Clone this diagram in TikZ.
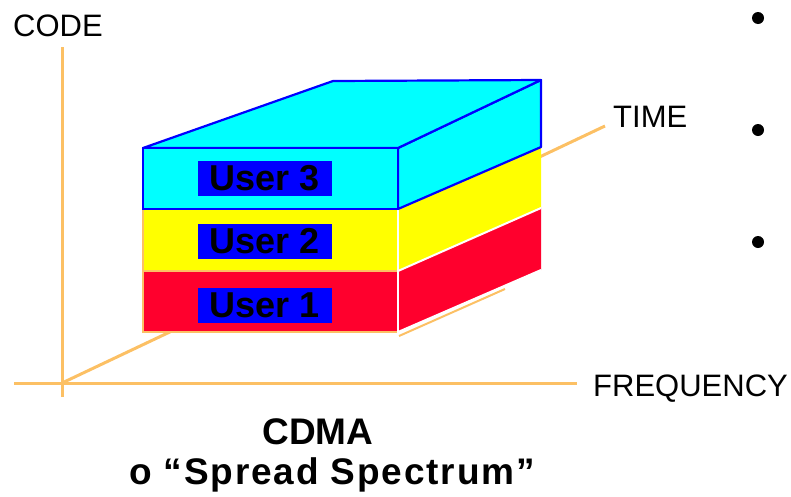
\documentclass[tikz,border=0pt]{standalone}
\usepackage{fontspec}
\setmainfont{Liberation Sans}
\usepackage{xcolor}
\definecolor{axisorange}{RGB}{252,192,100}
\definecolor{layercyan}{RGB}{0,255,255}
\definecolor{layeryellow}{RGB}{255,255,0}
\definecolor{layerred}{RGB}{255,0,45}
\definecolor{labelblue}{RGB}{0,0,255}

\tikzset{
    axis/.style={draw=axisorange, line width=3pt},
    axislabel/.style={anchor=base west, inner sep=0pt, font=\fontsize{31}{37}\selectfont},
    userlabel/.style={fill=labelblue, inner sep=0pt, minimum width=134pt, minimum height=35pt,
        font=\fontsize{36}{43}\selectfont\bfseries},
    captionline/.style={anchor=base, inner sep=0pt, font=\fontsize{37}{44}\selectfont\bfseries},
    dot/.style={circle, fill=black, inner sep=0pt, minimum size=12pt}
}

\begin{document}
\begin{tikzpicture}[x=1pt, y=-1pt]
\useasboundingbox (0,0) rectangle (791,496);

% === Axes ===
\coordinate (origin) at (62,383);
\coordinate (codetop) at (62,47);
\coordinate (codebot) at (62,397);
\coordinate (freqleft) at (14,383);
\coordinate (freqright) at (577,383);
\coordinate (timeend) at (605,126);
\draw[axis] (codebot) -- (codetop);
\draw[axis] (freqleft) -- (freqright);
\draw[axis] (origin) -- (timeend);

\node[axislabel] (code) at (13,36) {CODE};
\node[axislabel] (time) at (613,127) {TIME};
\node[axislabel] (freq) at (593,396) {FREQUENCY};

% === Box: side faces ===
\fill[layerred] (398,271) -- (541,208) -- (541,270) -- (398,332) -- cycle;
\fill[layeryellow] (398,209) -- (541,147) -- (541,208) -- (398,271) -- cycle;
\draw[white, line width=2pt] (398,271) -- (541,208);
\draw[white, line width=2pt] (398,332) -- (541,270);
\draw[axisorange, line width=2pt] (399,336) -- (505,289);

% cyan side and top, blue outline
\draw[fill=layercyan, draw=labelblue, line width=2.2pt, line join=round]
    (398,148) -- (541,80) -- (541,147) -- (398,209) -- cycle;
\draw[fill=layercyan, draw=labelblue, line width=2.2pt, line join=round]
    (143,148) -- (333,81) -- (541,80) -- (398,148) -- cycle;

% === Box: front faces ===
\draw[fill=layerred, draw=axisorange, line width=2.2pt] (143,271) rectangle (398,332);
\draw[fill=layeryellow, draw=axisorange, line width=2.2pt] (143,209) rectangle (398,271);
\draw[white, line width=2pt] (398,209) -- (398,333);
\draw[fill=layercyan, draw=labelblue, line width=2.2pt] (143,148) rectangle (398,209);

\node[userlabel] (user3) at (265,178.5) {User 3};
\node[userlabel] (user2) at (265,241) {User 2};
\node[userlabel] (user1) at (265,305) {User 1};

% === Bullets ===
\foreach \y [count=\i] in {18,130,242} {
    \node[dot] (dot\i) at (758,\y) {};
}

% === Caption ===
\node[captionline] (cdma) at (318,444) {CDMA};
\node[captionline] (spread) at (332,484) {\addfontfeature{LetterSpace=5}o “Spread Spectrum”};

\end{tikzpicture}
\end{document}
